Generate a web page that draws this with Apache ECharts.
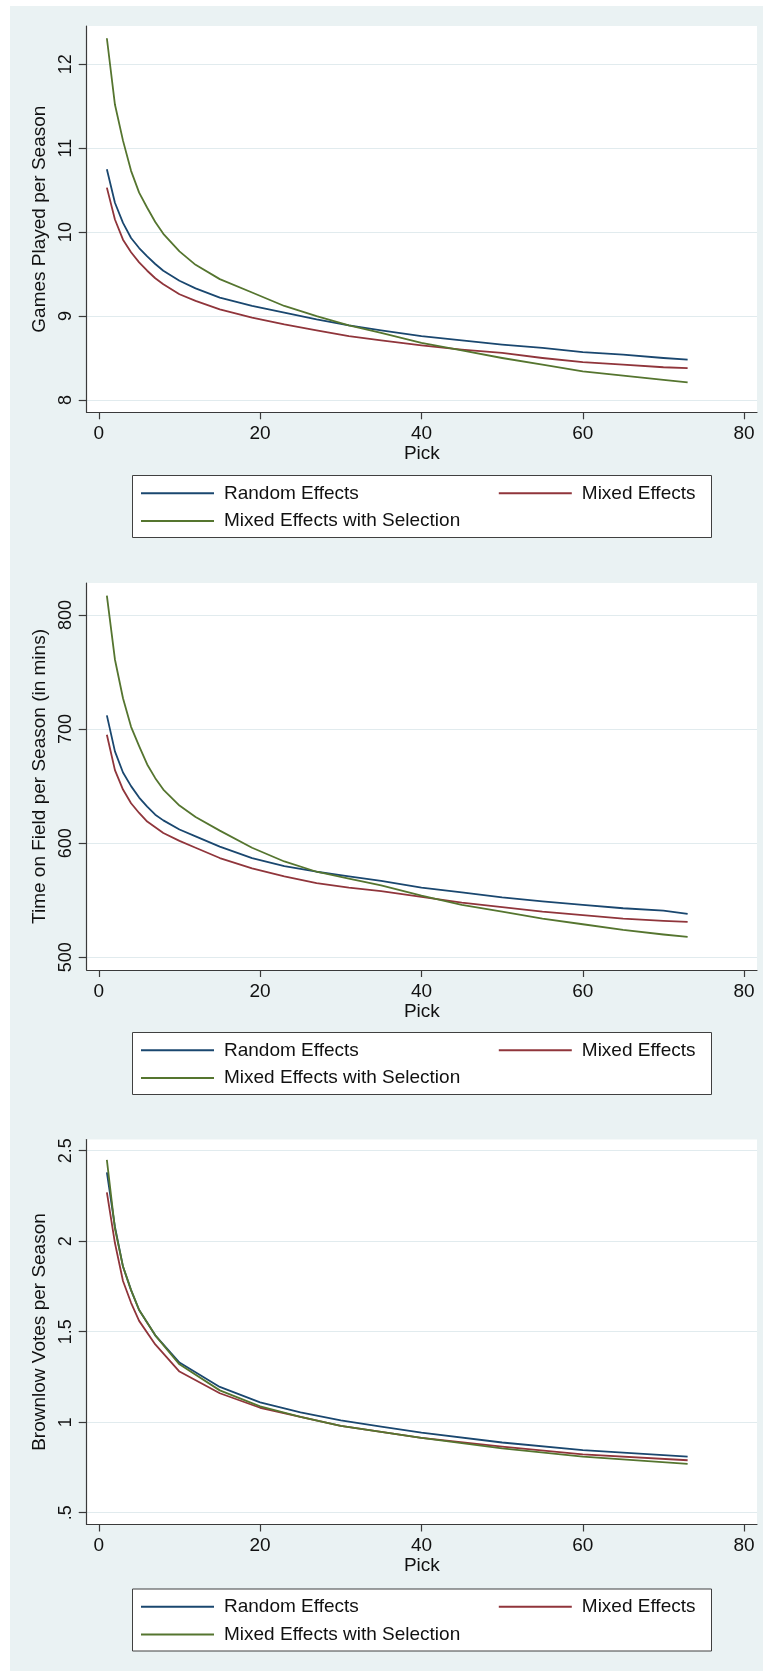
<!DOCTYPE html>
<html>
<head>
<meta charset="utf-8">
<script src="https://cdn.jsdelivr.net/npm/echarts@6/dist/echarts.min.js"></script>
<style>
html,body{margin:0;padding:0;background:#fff;}
#wrap{position:relative;width:763px;height:1671px;background:#fff;overflow:hidden;}
#bg{position:absolute;left:10px;top:6px;right:0;bottom:0;background:#EAF2F3;}
#chart{position:absolute;left:0;top:0;width:763px;height:1671px;}
</style>
</head>
<body>
<div id="wrap"><div id="bg"></div><div id="chart"></div></div>
<script>
// ---------- DATA ----------
const seriesNames = ['Random Effects', 'Mixed Effects', 'Mixed Effects with Selection'];
const xTicks = [0, 20, 40, 60, 80];

// Panel 1: Games Played per Season
const gamesPicks = [1,2,3,4,5,6,7,8,10,12,15,19,23,27,31,35,40,45,50,55,60,65,70,73];
const gamesRandom = [10.75,10.35,10.11,9.93,9.81,9.71,9.62,9.54,9.42,9.33,9.22,9.12,9.04,8.96,8.89,8.83,8.76,8.71,8.66,8.62,8.57,8.54,8.50,8.48];
const gamesMixed = [10.53,10.15,9.91,9.76,9.64,9.54,9.45,9.38,9.26,9.18,9.08,8.98,8.90,8.83,8.76,8.71,8.65,8.60,8.56,8.50,8.45,8.42,8.39,8.38];
const gamesSelection = [12.31,11.52,11.09,10.73,10.47,10.29,10.12,9.98,9.77,9.61,9.44,9.28,9.12,9.00,8.89,8.80,8.68,8.59,8.50,8.42,8.34,8.29,8.24,8.21];
const gamesYTicks = [8, 9, 10, 11, 12];

// Panel 2: Time on Field per Season (in mins)
const timePicks = [1,2,3,4,5,6,7,8,10,12,15,19,23,27,31,35,40,45,50,55,60,65,70,73];
const timeRandom = [712,680.5,662,650,640,632,625,620,612,606,597,587,580,575,571,567,561,557,552.5,549,546,543,541,538];
const timeMixed = [695,664,647,635,626.5,619,614,609,602,596,587,578,571,565,561,558,553,548,544,540,537,534,532,531];
const timeSelection = [817,761,727,702,685,669,657,647,633,623,611,596,584,575,569,563,554,546,540,534,529,524,520,518];
const timeYTicks = [500, 600, 700, 800];

// Panel 3: Brownlow Votes per Season
const brownPicks = [1,2,3,4,5,7,10,15,20,25,30,35,40,50,60,73];
const brownRandom = [2.38,2.08,1.86,1.73,1.62,1.48,1.33,1.195,1.11,1.055,1.01,0.976,0.943,0.888,0.846,0.81];
const brownMixed = [2.27,1.99,1.78,1.66,1.56,1.43,1.28,1.16,1.08,1.03,0.98,0.947,0.914,0.865,0.822,0.79];
const brownSelection = [2.45,2.07,1.86,1.73,1.62,1.48,1.32,1.176,1.088,1.03,0.98,0.947,0.914,0.855,0.81,0.77];
const brownYTicks = [0.5, 1, 1.5, 2, 2.5];

// ---------- BUILD ----------
const FONT = "'Liberation Sans', Arial, sans-serif";
const colors = ['#1A476F', '#90353B', '#55752F'];

const panels = [
  { title: 'Games Played per Season', picks: gamesPicks, vals: [gamesRandom, gamesMixed, gamesSelection],
    yTicks: gamesYTicks, yMin: 7.853, yMax: 12.456, off: 0, h: 386.3, fmt: v => String(v) },
  { title: 'Time on Field per Season (in mins)', picks: timePicks, vals: [timeRandom, timeMixed, timeSelection],
    yTicks: timeYTicks, yMin: 488.9, yMax: 828.0, off: 557, h: 387, fmt: v => String(v) },
  { title: 'Brownlow Votes per Season', picks: brownPicks, vals: [brownRandom, brownMixed, brownSelection],
    yTicks: brownYTicks, yMin: 0.435, yMax: 2.562, off: 1113.5, h: 385,
    fmt: v => String(v).replace(/^0\./, '.') }
];

const grid = [], xAxis = [], yAxis = [], series = [], legend = [], graphic = [];
const axisColor = '#3a3a3a';

panels.forEach((p, i) => {
  grid.push({ left: 86.7, top: 26 + p.off, width: 670.3, height: p.h, show: true,
              backgroundColor: '#ffffff', borderWidth: 0, containLabel: false });
  xAxis.push({
    type: 'value', gridIndex: i, min: -1.5, max: 81.6,
    name: 'Pick', nameLocation: 'middle', nameGap: 31,
    nameTextStyle: { fontSize: 19, fontFamily: FONT, color: '#111' },
    axisLine: { show: true, onZero: false, lineStyle: { color: axisColor, width: 1.2 } },
    axisTick: { show: true, length: 7, customValues: xTicks, lineStyle: { color: axisColor, width: 1.2 } },
    axisLabel: { show: true, customValues: xTicks, margin: 12, fontSize: 19, fontFamily: FONT, color: '#111' },
    splitLine: { show: false }
  });
  yAxis.push({
    type: 'value', gridIndex: i, min: p.yMin, max: p.yMax,
    name: p.title, nameLocation: 'middle', nameGap: 33,
    nameTextStyle: { fontSize: 19, fontFamily: FONT, color: '#111' },
    axisLine: { show: true, onZero: false, lineStyle: { color: axisColor, width: 1.2 } },
    axisTick: { show: true, length: 8, customValues: p.yTicks, lineStyle: { color: axisColor, width: 1.2 } },
    axisLabel: { show: true, customValues: p.yTicks, rotate: 90, margin: 12, fontSize: 18,
                 fontFamily: FONT, color: '#111', formatter: p.fmt },
    splitLine: { show: true, lineStyle: { color: '#e1ebee', width: 1.2 } }
  });
  p.vals.forEach((vals, k) => {
    series.push({
      name: seriesNames[k], type: 'line', xAxisIndex: i, yAxisIndex: i,
      data: p.picks.map((x, j) => [x, vals[j]]),
      showSymbol: false, symbol: 'none', smooth: false,
      lineStyle: { color: colors[k], width: 1.8, join: 'round' }, itemStyle: { color: colors[k] },
      z: 3, animation: false
    });
  });
  graphic.push({ type: 'rect', z: 1,
    shape: { x: 132.5, y: 475.5 + p.off, width: 579, height: 62 },
    style: { fill: '#ffffff', stroke: '#404040', lineWidth: 1 } });
  const items = [
    { name: seriesNames[0], left: 141, cy: 493.3 },
    { name: seriesNames[1], left: 498.8, cy: 493.3 },
    { name: seriesNames[2], left: 141, cy: 521 }
  ];
  items.forEach(it => {
    legend.push({
      data: [it.name], left: it.left, top: it.cy - 10 + p.off, padding: 0,
      icon: 'rect', itemWidth: 73, itemHeight: 2, selectedMode: false, z: 5,
      textStyle: { fontSize: 19, fontFamily: FONT, color: '#111', lineHeight: 20, padding: [0, 0, 0, 5] }
    });
  });
});

const chart = echarts.init(document.getElementById('chart'), null, { renderer: 'canvas' });
chart.setOption({
  animation: false,
  backgroundColor: 'transparent',
  grid, xAxis, yAxis, series, legend, graphic
});
</script>
</body>
</html>
